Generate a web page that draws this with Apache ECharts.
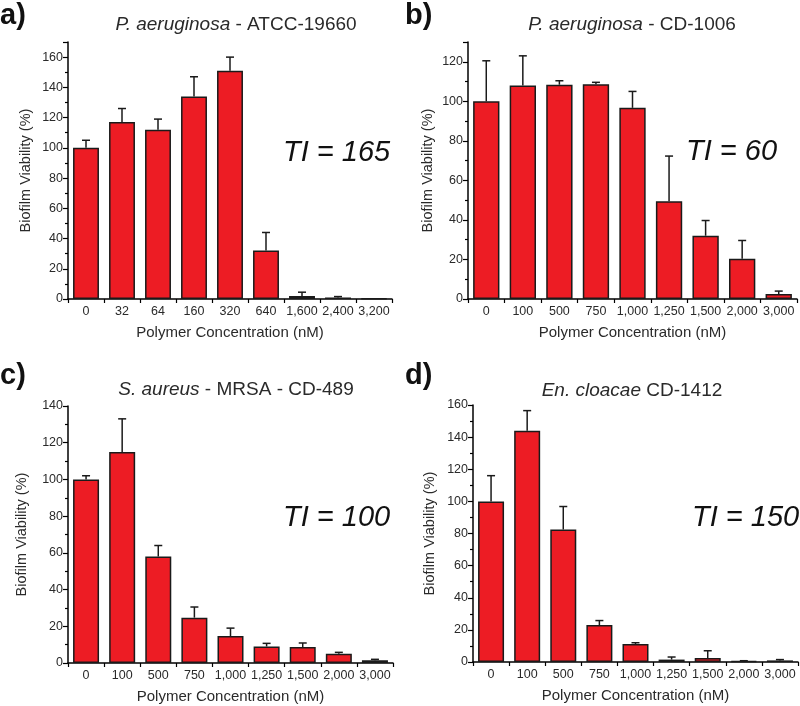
<!DOCTYPE html>
<html>
<head>
<meta charset="utf-8">
<script src="https://cdn.jsdelivr.net/npm/echarts@6/dist/echarts.min.js"></script>
<style>
html,body{margin:0;padding:0;background:#fff;}
#c{width:800px;height:706px;}
</style>
</head>
<body>
<div id="c"></div>
<script>
// ---- data ----
const catsA = ['0','32','64','160','320','640','1,600','2,400','3,200'];
const catsBCD = ['0','100','500','750','1,000','1,250','1,500','2,000','3,000'];

const valsA = [100, 117, 112, 134, 151, 32, 2, 1, 0.3];
const errA  = [5, 9, 7, 13, 9, 12, 2.5, 0.6, 0];

const valsB = [100, 108, 108.4, 108.6, 96.7, 49.5, 32, 20.4, 2.5];
const errB  = [20.5, 15, 2, 1, 8.3, 22.8, 7.7, 9.2, 1.5];

const valsC = [100, 115, 58, 24.7, 14.7, 9, 8.7, 5, 1.5];
const errC  = [2, 18, 6, 5.8, 4.3, 1.7, 2.2, 0.8, 0.5];

const valsD = [100, 144, 82.5, 23, 11.2, 1.5, 2.5, 0.5, 1];
const errD  = [16, 12.5, 14.3, 2.8, 0.8, 1.6, 4.5, 0.3, 0.5];

const yMax = [170, 130, 140, 160];
const titles = [
  ['P. aeruginosa', ' - ATCC-19660'],
  ['P. aeruginosa', ' - CD-1006'],
  ['S. aureus', ' - MRSA - CD-489'],
  ['En. cloacae', ' CD-1412']
];
const tiLabels = ['TI = 165', 'TI = 60', 'TI = 100', 'TI = 150'];
const panelLetters = ['a)', 'b)', 'c)', 'd)'];

// ---- layout ----
const FONT = '"Liberation Sans", Arial, sans-serif';
const TXT = '#2a2a2a';
const grids = [
  {left: 68, top: 42, width: 324, height: 257},
  {left: 468, top: 42, width: 329, height: 257},
  {left: 68, top: 406, width: 325, height: 257},
  {left: 473, top: 405, width: 325, height: 257}
];
const yNameGap = [35, 33, 39, 36];
const titlePos = [{x: 231, y: 10}, {x: 627, y: 10}, {x: 231, y: 375}, {x: 627, y: 376}];
const tiPos = [{x: 283, y: 138}, {x: 686, y: 137}, {x: 283, y: 503}, {x: 692, y: 503}];
const letterPos = [{x: 0, y: 1}, {x: 405, y: 1}, {x: 0, y: 361}, {x: 405, y: 361}];

const cats = [catsA, catsBCD, catsBCD, catsBCD];
const vals = [valsA, valsB, valsC, valsD];
const errs = [errA, errB, errC, errD];

const xAxis = [], yAxis = [], series = [], title = [], graphic = [];
for (let i = 0; i < 4; i++) {
  xAxis.push({
    type: 'category', gridIndex: i, data: cats[i],
    name: 'Polymer Concentration (nM)', nameLocation: 'middle', nameGap: 26,
    nameTextStyle: {fontFamily: FONT, fontSize: 15, color: TXT},
    axisLine: {lineStyle: {color: '#000', width: 1.5}},
    axisTick: {show: true, inside: false, length: 4, lineStyle: {color: '#000', width: 1.2}},
    axisLabel: {fontFamily: FONT, fontSize: 12.5, color: TXT, margin: 6, interval: 0}
  });
  yAxis.push({
    type: 'value', gridIndex: i, min: 0, max: yMax[i], interval: 20,
    name: 'Biofilm Viability (%)', nameLocation: 'middle', nameGap: yNameGap[i],
    nameTextStyle: {fontFamily: FONT, fontSize: 14.5, color: TXT},
    axisLine: {show: true, lineStyle: {color: '#000', width: 1.5}},
    axisTick: {show: true, inside: false, length: 5, lineStyle: {color: '#000', width: 1.2}},
    minorTick: {show: true, splitNumber: 2, length: 3, lineStyle: {color: '#000', width: 1.2}},
    splitLine: {show: false},
    axisLabel: {fontFamily: FONT, fontSize: 12.5, color: TXT, margin: 5, showMaxLabel: yMax[i] % 20 === 0}
  });
  series.push({
    type: 'bar', xAxisIndex: i, yAxisIndex: i, data: vals[i],
    barCategoryGap: '28%',
    itemStyle: {color: '#ED1C24', borderColor: '#1a1a1a', borderWidth: 1.5},
    z: 2
  });
  const ed = vals[i].map((v, k) => [k, v, errs[i][k]]);
  series.push({
    type: 'custom', xAxisIndex: i, yAxisIndex: i, data: ed, z: 3,
    renderItem: function (params, api) {
      const x = api.value(0), v = api.value(1), e = api.value(2);
      if (!(e > 0)) return null;
      const p0 = api.coord([x, v]);
      const p1 = api.coord([x, v + e]);
      const st = {stroke: '#1a1a1a', lineWidth: 1.5};
      return {type: 'group', children: [
        {type: 'line', shape: {x1: p0[0], y1: p0[1], x2: p1[0], y2: p1[1]}, style: st},
        {type: 'line', shape: {x1: p1[0] - 4, y1: p1[1], x2: p1[0] + 4, y2: p1[1]}, style: st}
      ]};
    }
  });
  title.push({
    text: '{i|' + titles[i][0] + '}{n|' + titles[i][1] + '}',
    left: titlePos[i].x, top: titlePos[i].y, textAlign: 'center',
    textStyle: {
      fontWeight: 'normal',
      rich: {
        i: {fontFamily: FONT, fontSize: 19, fontStyle: 'italic', fontWeight: 'normal', color: TXT},
        n: {fontFamily: FONT, fontSize: 19, fontWeight: 'normal', color: TXT}
      }
    }
  });
  graphic.push({
    type: 'text', left: tiPos[i].x, top: tiPos[i].y,
    style: {text: tiLabels[i], font: 'italic 29px ' + FONT, fill: '#111'}
  });
  graphic.push({
    type: 'text', left: letterPos[i].x, top: letterPos[i].y,
    style: {text: panelLetters[i], font: 'bold 29px ' + FONT, fill: '#111'}
  });
}

const chart = echarts.init(document.getElementById('c'), null, {renderer: 'canvas'});
chart.setOption({
  animation: false,
  backgroundColor: '#fff',
  grid: grids,
  xAxis: xAxis,
  yAxis: yAxis,
  series: series,
  title: title,
  graphic: graphic
});
</script>
</body>
</html>
